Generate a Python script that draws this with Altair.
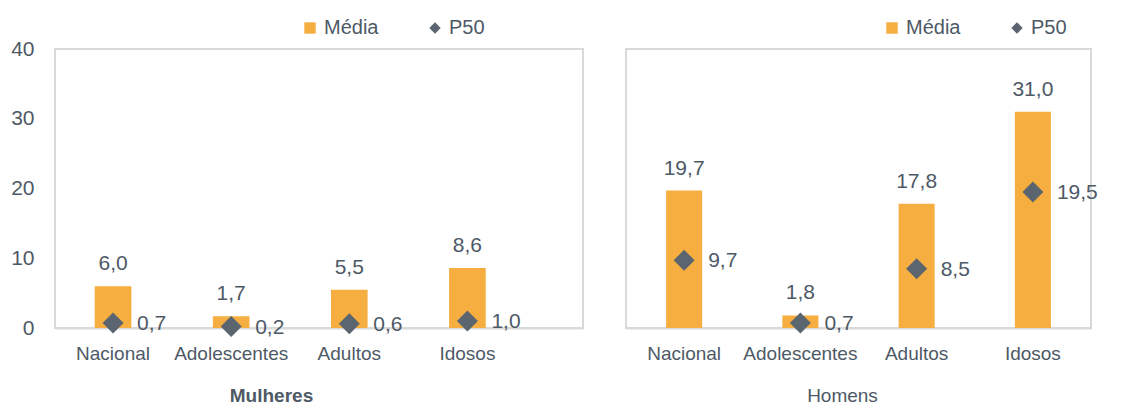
import altair as alt
import pandas as pd

categories = ["Nacional", "Adolescentes", "Adultos", "Idosos"]
mulheres_media = [6.0, 1.7, 5.5, 8.6]
mulheres_p50 = [0.7, 0.2, 0.6, 1.0]
homens_media = [19.7, 1.8, 17.8, 31.0]
homens_p50 = [9.7, 0.7, 8.5, 19.5]
series_names = ["Média", "P50"]
y_ticks = [0, 10, 20, 30, 40]

BAR = "#F6AE40"
DIAM = "#5A6570"
TXT = "#4E5966"
GRID = "#D9D9D9"
FONT = "Liberation Sans"


def panel(media, p50, title, bold, width, scale_kw, show_y, legend_x):
    df = pd.DataFrame({
        "cat": categories * 2,
        "serie": [series_names[0]] * 4 + [series_names[1]] * 4,
        "valor": list(media) + list(p50),
    })
    base = alt.Chart(df).transform_calculate(
        lab="replace(format(datum.valor, '.1f'), '.', ',')",
    )
    xenc = alt.X(
        "cat:N",
        sort=categories,
        scale=alt.Scale(**scale_kw),
        axis=alt.Axis(
            title=title,
            titleFontWeight="bold" if bold else "normal",
            titleFont=FONT,
            titleFontSize=19,
            titleColor=TXT,
            titleX=216,
            titleY=73,
            titleAlign="center",
            titleBaseline="alphabetic",
            labelFont=FONT,
            labelFontSize=19,
            labelColor=TXT,
            labelPadding=16,
            labelAngle=0,
            ticks=False,
            domainColor=GRID,
            domainWidth=2,
            grid=False,
        ),
    )
    if show_y:
        yaxis = alt.Axis(
            values=y_ticks,
            title=None,
            labelFont=FONT,
            labelFontSize=21,
            labelColor=TXT,
            labelPadding=21,
            ticks=False,
            domain=False,
            grid=False,
            minExtent=46,
            maxExtent=46,
        )
    else:
        yaxis = None
    yscale = alt.Scale(domain=[0, 40], nice=False)
    color = alt.Color(
        "serie:N",
        scale=alt.Scale(domain=series_names, range=[BAR, DIAM]),
        legend=alt.Legend(
            title=None,
            orient="none",
            legendX=legend_x,
            legendY=-31,
            direction="horizontal",
            labelFont=FONT,
            labelFontSize=20,
            labelColor=TXT,
            symbolSize=130,
            symbolStrokeWidth=0,
            symbolOpacity=1,
            columnPadding=46,
            labelOffset=4,
        ),
    )
    shape = alt.Shape(
        "serie:N",
        scale=alt.Scale(domain=series_names, range=["square", "diamond"]),
    )
    bars = base.transform_filter(alt.datum.serie == series_names[0]).mark_bar().encode(
        x=xenc,
        y=alt.Y("valor:Q", scale=yscale, axis=yaxis),
        color=color,
        shape=shape,
    )
    pts = base.transform_filter(alt.datum.serie == series_names[1]).mark_point(
        filled=True, opacity=1, size=441
    ).encode(
        x=alt.X("cat:N", sort=categories),
        y=alt.Y("valor:Q"),
        color=color,
        shape=shape,
    )
    lab_m = base.transform_filter(alt.datum.serie == series_names[0]).mark_text(
        font=FONT, fontSize=21, color=TXT, baseline="alphabetic", dy=-16
    ).encode(
        x=alt.X("cat:N", sort=categories),
        y=alt.Y("valor:Q"),
        text="lab:N",
    )
    lab_p = base.transform_filter(alt.datum.serie == series_names[1]).mark_text(
        font=FONT, fontSize=21, color=TXT, align="left", baseline="middle", dx=24, dy=1
    ).encode(
        x=alt.X("cat:N", sort=categories),
        y=alt.Y("valor:Q"),
        text="lab:N",
    )
    return alt.layer(bars, pts, lab_m, lab_p).properties(width=width, height=279)


left = panel(
    mulheres_media, mulheres_p50, "Mulheres", True, 528,
    dict(paddingInner=0.69, paddingOuter=0.58, align=0.29), True, 245,
)
right = panel(
    homens_media, homens_p50, "Homens", False, 465,
    dict(paddingInner=0.69, paddingOuter=0.345), False, 256,
)

chart = alt.hconcat(left, right, spacing=41).resolve_scale(
    color="independent", shape="independent", y="independent", x="independent"
).resolve_legend(color="independent", shape="independent").configure_view(
    stroke=GRID, strokeWidth=2
).properties(
    padding={"left": 0, "top": 9, "right": 5, "bottom": 0}
)

chart.save("out.html", embed_options={"renderer": "svg", "actions": False})
